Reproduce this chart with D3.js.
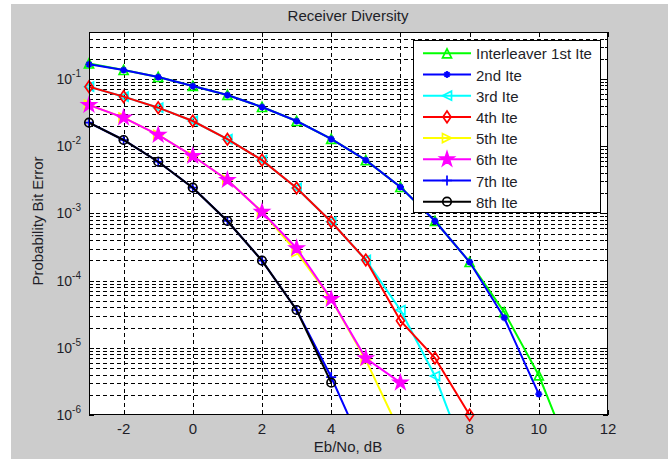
<!DOCTYPE html>
<html>
<head>
<meta charset="utf-8">
<title>Receiver Diversity</title>
<script src="https://cdn.jsdelivr.net/npm/d3@7"></script>
<style>
body { margin: 0; background: #fff; font-family: "Liberation Sans", Arial, sans-serif; }
text { fill: #1e1e28; }
</style>
</head>
<body>
<script>
// Eb/No values (dB)
var ebno = [-3, -2, -1, 0, 1, 2, 3, 4, 5, 6, 7, 8, 9, 10, 11];

// BER per iteration, same index as ebno (points that fall off the axis are kept so the line leaves the plot)
var ite1 = [0.17, 0.136, 0.107, 0.0787, 0.0578, 0.0383, 0.0237, 0.0128, 6.2e-3, 2.47e-3, 7.7e-4, 1.89e-4, 3.4e-5, 3.9e-6, 2e-7];
var ite2 = [0.165, 0.136, 0.107, 0.0787, 0.0578, 0.0383, 0.0237, 0.0128, 6.2e-3, 2.47e-3, 7.7e-4, 1.89e-4, 2.8e-5, 2.05e-6];
var ite3 = [0.0767, 0.0546, 0.0374, 0.0237, 0.0127, 6.2e-3, 2.39e-3, 7.5e-4, 2.03e-4, 3.65e-5, 3.8e-6, 1.7e-7];
var ite4 = [0.0767, 0.0546, 0.0374, 0.0237, 0.0127, 6.2e-3, 2.39e-3, 7.5e-4, 2.03e-4, 2.53e-5, 7.05e-6, 1e-6];
var ite5 = [0.041, 0.0266, 0.0147, 7.14e-3, 3.14e-3, 1.05e-3, 2.67e-4, 5.3e-5, 6.6e-6, 5.4e-7];
var ite6 = [0.041, 0.0266, 0.0147, 7.14e-3, 3.14e-3, 1.05e-3, 3.03e-4, 5.3e-5, 6.98e-6, 3.03e-6];
var ite7 = [0.0224, 0.01236, 5.87e-3, 2.41e-3, 7.7e-4, 1.98e-4, 3.65e-5, 3.67e-6, 2.6e-7];
var ite8 = [0.0224, 0.01236, 5.87e-3, 2.41e-3, 7.7e-4, 1.98e-4, 3.65e-5, 3.03e-6];

var names = ["Interleaver 1st Ite", "2nd Ite", "3rd Ite", "4th Ite", "5th Ite", "6th Ite", "7th Ite", "8th Ite"];
var colors = ["#00ff00", "#0000ff", "#00ffff", "#ff0000", "#ffff00", "#ff00ff", "#0000ff", "#000000"];
var markers = ["tri-up", "asterisk", "tri-left", "diamond", "tri-right", "star", "plus", "circle"];
var seriesVals = [ite1, ite2, ite3, ite4, ite5, ite6, ite7, ite8];

var xTicks = [-2, 0, 2, 4, 6, 8, 10, 12];
var yTicks = [1e-6, 1e-5, 1e-4, 1e-3, 1e-2, 1e-1];

var W = 668, H = 459;
var pL = 89, pR = 608, pT = 32, pB = 415;

var svg = d3.select("body").append("svg")
	.attr("width", W)
	.attr("height", H);

// figure background
svg.append("rect").attr("x", 11).attr("y", 4).attr("width", W - 11).attr("height", H - 4).attr("fill", "#cccccc");
svg.append("rect").attr("x", pL).attr("y", pT).attr("width", pR - pL).attr("height", pB - pT).attr("fill", "#fff");

var x = d3.scaleLinear().domain([-3, 12]).range([pL, pR]);
var y = d3.scaleLog().domain([1e-6, 0.5]).range([pB, pT]);

// minor + major y values for grid
var yGrid = [];
for (var e = -6; e <= -1; e++) {
	for (var m = 1; m <= 9; m++) {
		var v = m * Math.pow(10, e);
		if (v <= 0.5 && !(e == -6 && m == 1)) yGrid.push(v);
	}
}

var grid = svg.append("g").attr("stroke", "#000").attr("stroke-width", 1).attr("stroke-dasharray", "4,3").attr("shape-rendering", "crispEdges");
grid.selectAll("line.h").data(yGrid).enter().append("line")
	.attr("x1", pL).attr("x2", pR)
	.attr("y1", function(d){ return Math.round(y(d)) + 0.5; })
	.attr("y2", function(d){ return Math.round(y(d)) + 0.5; });
grid.selectAll("line.v").data(xTicks.filter(function(d){ return d < 12; })).enter().append("line")
	.attr("y1", pT).attr("y2", pB)
	.attr("x1", function(d){ return Math.round(x(d)) + 0.5; })
	.attr("x2", function(d){ return Math.round(x(d)) + 0.5; });

// tick marks (inside, on all four sides)
var ticks = svg.append("g").attr("stroke", "#000").attr("stroke-width", 1).attr("shape-rendering", "crispEdges");
xTicks.forEach(function(d){
	var px = Math.round(x(d)) + 0.5;
	ticks.append("line").attr("x1", px).attr("x2", px).attr("y1", pB).attr("y2", pB - 5);
	ticks.append("line").attr("x1", px).attr("x2", px).attr("y1", pT).attr("y2", pT + 5);
});
yGrid.concat([1e-6]).forEach(function(d){
	var py = Math.round(y(d)) + 0.5;
	var len = yTicks.indexOf(d) >= 0 ? 5 : 3;
	ticks.append("line").attr("x1", pL).attr("x2", pL + len).attr("y1", py).attr("y2", py);
	ticks.append("line").attr("x1", pR).attr("x2", pR - len).attr("y1", py).attr("y2", py);
});

// clip for lines
svg.append("clipPath").attr("id", "plotclip").append("rect")
	.attr("x", pL).attr("y", pT).attr("width", pR - pL).attr("height", pB - pT);

function markerPath(type, s) {
	var h = s / 2;
	if (type == "tri-up") return "M0," + (-h) + "L" + h + "," + h + "L" + (-h) + "," + h + "Z";
	if (type == "tri-left") return "M" + (-h) + ",0L" + h + "," + (-h) + "L" + h + "," + h + "Z";
	if (type == "tri-right") return "M" + h + ",0L" + (-h) + "," + (-h) + "L" + (-h) + "," + h + "Z";
	if (type == "diamond") return "M0," + (-h * 1.45) + "L" + h + ",0L0," + (h * 1.45) + "L" + (-h) + ",0Z";
	if (type == "plus") return "M" + (-h) + ",0L" + h + ",0M0," + (-h) + "L0," + h;
	if (type == "asterisk") {
		var a = h * 0.7;
		return "M" + (-h) + ",0L" + h + ",0M0," + (-h) + "L0," + h + "M" + (-a) + "," + (-a) + "L" + a + "," + a + "M" + (-a) + "," + a + "L" + a + "," + (-a);
	}
	if (type == "circle") return d3.symbol().type(d3.symbolCircle).size(Math.PI * h * h)();
	if (type == "star") return d3.symbol().type(d3.symbolStar).size(s * s * 0.3)();
	return "";
}
var markerSize = { "tri-up": 9, "tri-left": 9, "tri-right": 9, "diamond": 8, "plus": 10, "asterisk": 7, "circle": 8.5, "star": 14 };

var line = d3.line()
	.x(function(d){ return x(d.x); })
	.y(function(d){ return y(d.y); });

var plot = svg.append("g");
seriesVals.forEach(function(vals, i){
	var pts = vals.map(function(v, j){ return { x: ebno[j], y: v }; });
	plot.append("path")
		.attr("clip-path", "url(#plotclip)")
		.attr("d", line(pts))
		.attr("fill", "none")
		.attr("stroke", colors[i])
		.attr("stroke-width", 2);
	plot.selectAll("path.m" + i)
		.data(pts.filter(function(d){ return d.y >= 1e-6; }))
		.enter().append("path")
		.attr("class", "m" + i)
		.attr("transform", function(d){ return "translate(" + x(d.x) + "," + y(d.y) + ")"; })
		.attr("d", markerPath(markers[i], markerSize[markers[i]]))
		.attr("fill", markers[i] == "star" ? colors[i] : "none")
		.attr("stroke", colors[i])
		.attr("stroke-width", markers[i] == "asterisk" ? 1.8 : 1.7);
});

// axes box
svg.append("rect").attr("x", pL + 0.5).attr("y", pT + 0.5).attr("width", pR - pL - 1).attr("height", pB - pT - 1)
	.attr("fill", "none").attr("stroke", "#000").attr("stroke-width", 1).attr("shape-rendering", "crispEdges");

// tick labels
svg.append("g").selectAll("text").data(xTicks).enter().append("text")
	.attr("x", function(d){ return x(d); })
	.attr("y", 433.5)
	.attr("text-anchor", "middle")
	.attr("font-size", 15)
	.text(function(d){ return d < 0 ? "-" + Math.abs(d) : d; });

var yl = svg.append("g").selectAll("text").data(yTicks).enter().append("text")
	.attr("x", 81)
	.attr("y", function(d){ return y(d) + 5; })
	.attr("text-anchor", "end")
	.attr("font-size", 14);
yl.append("tspan").text("10");
yl.append("tspan").attr("dy", -7).attr("font-size", 10).text(function(d){ return Math.round(Math.log10(d)); });

// titles
svg.append("text").attr("x", 348).attr("y", 21).attr("text-anchor", "middle").attr("font-size", 15).text("Receiver Diversity");
svg.append("text").attr("x", 348).attr("y", 452).attr("text-anchor", "middle").attr("font-size", 15).text("Eb/No, dB");
svg.append("text").attr("transform", "translate(43,221) rotate(-90)").attr("text-anchor", "middle").attr("font-size", 15).text("Probability Bit Error");

// legend
var lg = svg.append("g");
lg.append("rect").attr("x", 413.5).attr("y", 40.5).attr("width", 187).attr("height", 172)
	.attr("fill", "#fff").attr("stroke", "#000").attr("stroke-width", 1);
names.forEach(function(n, i){
	var ly = 53.3 + i * 21.2;
	lg.append("line").attr("x1", 423).attr("x2", 471).attr("y1", ly).attr("y2", ly)
		.attr("stroke", colors[i]).attr("stroke-width", 2);
	lg.append("path").attr("transform", "translate(447," + ly + ")")
		.attr("d", markerPath(markers[i], markerSize[markers[i]]))
		.attr("fill", markers[i] == "star" ? colors[i] : "none")
		.attr("stroke", colors[i])
		.attr("stroke-width", markers[i] == "asterisk" ? 1.8 : 1.7);
	lg.append("text").attr("x", 476).attr("y", ly + 6).attr("font-size", 15).text(n);
});
</script>
</body>
</html>
